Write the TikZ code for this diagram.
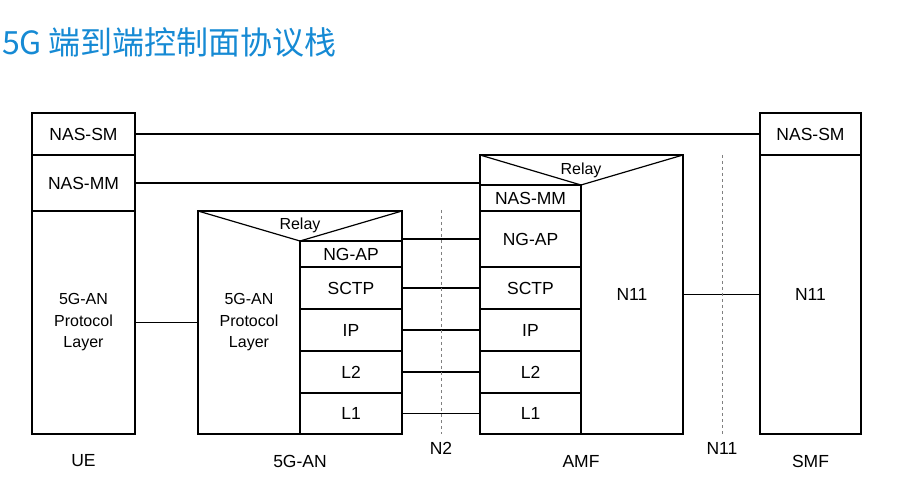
\documentclass[tikz,border=0pt]{standalone}
\usepackage{fontspec}
\setmainfont{Liberation Sans}
\newfontfamily\cjk{Noto Sans CJK SC}
\definecolor{titleblue}{HTML}{168AD4}

\begin{document}
\begin{tikzpicture}[x=1pt, y=-1pt]
	\tikzstyle{every node}=[inner sep=0pt, outer sep=0pt, align=center, font=\fontsize{17.5}{21.5}\selectfont]
	\tikzstyle{cell}=[draw, line width=1.2pt]
	\tikzstyle{small}=[font=\fontsize{16}{21.5}\selectfont]
	\tikzstyle{relay}=[font=\fontsize{16}{18}\selectfont]
	\tikzstyle{link}=[line width=1.2pt]
	\tikzstyle{iface}=[gray, line width=0.8pt, dash pattern=on 3pt off 3pt]
	\useasboundingbox (0,0) rectangle (910,502);

	\node[anchor=west, text=titleblue, font=\cjk\fontsize{32}{36}\selectfont] (title) at (2,42) {5G 端到端控制面协议栈};

	% UE
	\node[cell, minimum width=103pt, minimum height=42pt] (uesm) at (83.5,134) {NAS-SM};
	\node[cell, minimum width=103pt, minimum height=56pt] (uemm) at (83.5,183) {NAS-MM};
	\node[cell, small, minimum width=103pt, minimum height=223pt] (uean) at (83.5,322.5) {5G-AN\\Protocol\\Layer};
	\node (ue) at (83.5,461) {UE};

	% 5G-AN
	\node[cell, minimum width=204pt, minimum height=223pt] (an) at (300,322.5) {};
	\node[small] (anproto) at (249,322.5) {5G-AN\\Protocol\\Layer};
	\node[cell, minimum width=102pt, minimum height=26pt] (anngap) at (351,254) {NG-AP};
	\node[cell, minimum width=102pt, minimum height=42pt] (ansctp) at (351,288) {SCTP};
	\node[cell, minimum width=102pt, minimum height=42pt] (anip) at (351,330) {IP};
	\node[cell, minimum width=102pt, minimum height=42pt] (anltwo) at (351,372) {L2};
	\node[cell, minimum width=102pt, minimum height=41pt] (anlone) at (351,413.5) {L1};
	\draw[link] (an.north west) -- (anngap.north west) -- (an.north east);
	\node[relay] (anrelay) at (300,225) {Relay};
	\node (angn) at (300,461) {5G-AN};

	% AMF
	\node[cell, minimum width=203pt, minimum height=279pt] (amf) at (581.5,294.5) {};
	\node[cell, minimum width=101pt, minimum height=26pt] (amfmm) at (530.5,198) {NAS-MM};
	\node[cell, minimum width=101pt, minimum height=56pt] (amfngap) at (530.5,239) {NG-AP};
	\node[cell, minimum width=101pt, minimum height=42pt] (amfsctp) at (530.5,288) {SCTP};
	\node[cell, minimum width=101pt, minimum height=42pt] (amfip) at (530.5,330) {IP};
	\node[cell, minimum width=101pt, minimum height=42pt] (amfltwo) at (530.5,372) {L2};
	\node[cell, minimum width=101pt, minimum height=41pt] (amflone) at (530.5,413.5) {L1};
	\draw[link] (amf.north west) -- (amfmm.north east) -- (amf.north east);
	\node[relay] (amfrelay) at (581,170) {Relay};
	\node (amfn11) at (632,294.5) {N11};
	\node (amflabel) at (581,461) {AMF};

	% SMF
	\node[cell, minimum width=101pt, minimum height=42pt] (smfsm) at (810.5,134) {NAS-SM};
	\node[cell, minimum width=101pt, minimum height=279pt] (smfn11) at (810.5,294.5) {N11};
	\node (smf) at (810.5,461) {SMF};

	% peer links
	\draw[link] (uesm.east) -- (smfsm.west);
	\draw[link] (uemm.east) -- (uemm.east -| amf.west);
	\draw[link] (uean.east) -- (an.west);
	\draw[link] (amfngap.west -| anngap.east) -- (amfngap.west);
	\draw[link] (ansctp.east) -- (amfsctp.west);
	\draw[link] (anip.east) -- (amfip.west);
	\draw[link] (anltwo.east) -- (amfltwo.west);
	\draw[link] (anlone.east) -- (amflone.west);
	\draw[link] (amf.east) -- (smfn11.west);

	% interfaces
	\coordinate (ntwotop) at (441,210);
	\coordinate (ntwobot) at (441,434);
	\node (ntwo) at (441,448) {N2};
	\draw[iface] (ntwotop) -- (ntwobot);
	\coordinate (nelevtop) at (722,155);
	\coordinate (nelevbot) at (722,434);
	\node (nelev) at (722,448) {N11};
	\draw[iface] (nelevtop) -- (nelevbot);
\end{tikzpicture}
\end{document}
